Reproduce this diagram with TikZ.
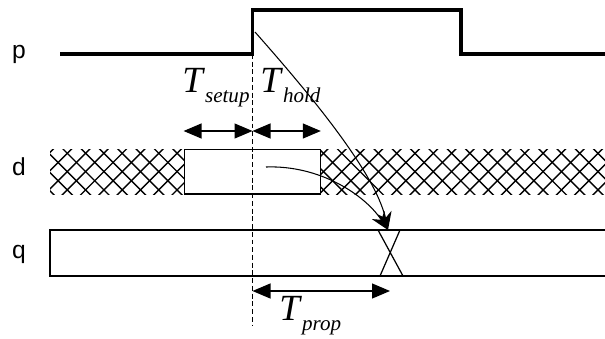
\documentclass[tikz,border=0pt]{standalone}
\usepackage{fontspec}
\setmainfont{Liberation Serif}
\setsansfont{Liberation Sans}
\usetikzlibrary{arrows.meta}

% delay name: big italic T with a lowered italic index
\newcommand{\tdelay}[1]{\fontsize{21}{21}\selectfont\textit{T}\raisebox{-6pt}{\fontsize{12}{12}\selectfont\textit{#1}}}

\tikzset{
    signame/.style={font=\sffamily\fontsize{14}{14}\selectfont, inner sep=0pt, anchor=mid},
    delayname/.style={inner sep=0pt, anchor=base west},
    clockline/.style={line width=2pt},
    busline/.style={line width=0.7pt},
    hatchline/.style={line width=0.8pt},
    spanarrow/.style={line width=0.7pt, {Triangle[length=0.36cm,width=0.3cm]}-{Triangle[length=0.36cm,width=0.3cm]}},
    causearrow/.style={line width=0.6pt, -{Stealth[length=0.36cm,width=0.3cm]}},
    databox/.style={draw, fill=white, line width=0.7pt, minimum width=2.72cm, minimum height=0.89cm, inner sep=0pt}
}

\begin{document}
\begin{tikzpicture}[x=0.02cm, y=-0.02cm]
  \useasboundingbox (0,0) rectangle (605,338);

  % signal names
  \node[signame] (lblp) at (19,54) {p};
  \node[signame] (lbld) at (19,171) {d};
  \node[signame] (lblq) at (19,254) {q};

  % clock p
  \coordinate (edge) at (252.5,54);
  \draw[clockline] (60,54) -- (edge) -- (252.5,10) -- (461,10) -- (461,54) -- (605,54);

  % d is unknown outside the window
  \begin{scope}
    \clip (50,149.5) rectangle (605,194);
    \foreach \k in {-9,...,25}
      \draw[hatchline] (5.5+18.3*\k+140,140) -- ++(60,60);
    \foreach \k in {10,...,44}
      \draw[hatchline] (1+18.3*\k-140,140) -- ++(-60,60);
  \end{scope}
  \node[databox] (dbox) at (252.2,171.75) {};

  % q and its change
  \draw[busline] (605,230) -- (50,230) -- (50,276) -- (605,276);
  \draw[busline] (378,230) -- (403,276) (400,230) -- (380,276);
  \coordinate (qchg) at (388,230);

  % sampling instant
  \draw[busline, dash pattern=on 2.8pt off 1.6pt] (edge) -- (252.5,325);

  % setup / hold window
  \coordinate (tick) at (252.5,131);
  \draw[spanarrow] (dbox.west |- tick) -- (tick);
  \draw[spanarrow] (tick) -- (dbox.east |- tick);
  \node[delayname] (tsetup) at (182,92) {\tdelay{setup}};
  \node[delayname] (thold) at (260,92) {\tdelay{hold}};

  % propagation to q
  \coordinate (rise) at (255,32);
  \coordinate (dsample) at (266,167);
  \draw[causearrow] (rise) .. controls (300,83) and (375,170) .. (qchg);
  \draw[causearrow] (dsample) .. controls (320,165) and (365,195) .. (qchg);
  \coordinate (pstart) at (252.5,291);
  \draw[spanarrow] (pstart) -- (390,291);
  \node[delayname] (tprop) at (279,320) {\tdelay{prop}};
\end{tikzpicture}
\end{document}
